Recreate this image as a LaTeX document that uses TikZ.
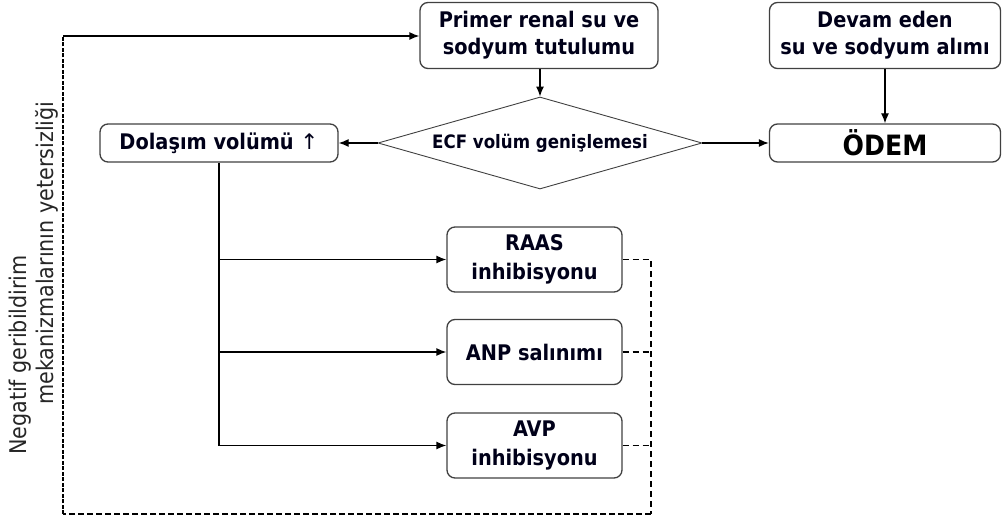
\documentclass[tikz,border=0pt]{standalone}
\usepackage{fontspec}
\setmainfont{DejaVu Sans Condensed}
\newfontfamily\rotfont{DejaVu Sans Condensed}
\newfontfamily\arrfont{DejaVu Sans}
\usetikzlibrary{arrows.meta,shapes.geometric}
\begin{document}
\begin{tikzpicture}[x=1pt,y=-1pt,
  box/.style={draw=black!75,line width=1.3pt,rounded corners=8pt,align=center,
    text=black!90!blue,font=\fontsize{21.5}{27}\selectfont\bfseries,inner sep=0pt},
  conn/.style={line width=1.3pt,-{Latex[length=10pt,width=8pt]}},
  fb/.style={line width=1.3pt,dash pattern=on 6pt off 4pt},
  rot/.style={rotate=90,anchor=base,font=\rotfont\fontsize{23}{23}\selectfont,text=black!85,inner sep=0pt}]
\useasboundingbox (0,0) rectangle (1002,521);
\node[box,minimum width=238pt,minimum height=66pt] (primer) at (539,35.5) {Primer renal su ve\\sodyum tutulumu};
\node[box,minimum width=231pt,minimum height=66pt] (devam) at (885,35.5) {Devam eden\\su ve sodyum alımı};
\node[draw=black!75,line width=0.9pt,shape=diamond,aspect=3.52,inner sep=0pt,
  minimum width=324pt,minimum height=92pt,text=black!90!blue,
  font=\fontsize{18.5}{20}\selectfont\bfseries] (diam) at (540,143) {ECF volüm genişlemesi};
\node[box,minimum width=238pt,minimum height=38pt] (dol) at (219,143) {Dolaşım volümü {\arrfont\mdseries ↑}};
\node[box,minimum width=231pt,minimum height=38pt,font=\fontsize{28}{30}\selectfont\bfseries,text=black] (odem) at (885,143) {ÖDEM};
\node[box,minimum width=175pt,minimum height=65pt,font=\fontsize{21.5}{29}\selectfont\bfseries] (raas) at (534.5,259.5) {RAAS\\inhibisyonu};
\node[box,minimum width=175pt,minimum height=65pt] (anp) at (534.5,352) {ANP salınımı};
\node[box,minimum width=175pt,minimum height=65pt,font=\fontsize{21.5}{29}\selectfont\bfseries] (avp) at (534.5,445.5) {AVP\\inhibisyonu};
\node[rot] (neg) at (26,355) {Negatif geribildirim};
\node[rot] (mek) at (53,253) {mekanizmalarının yetersizliği};
\coordinate (rc) at (651,259.5);
\coordinate (br) at (651,514);
\coordinate (bl) at (63,514);
\coordinate (tl) at (63,36);
\draw[conn] (diam.north |- primer.south) -- (diam.north);
\draw[conn] (devam.south) -- (odem.north);
\draw[conn] (diam.west) -- (dol.east);
\draw[conn] (diam.east) -- (odem.west);
\draw[line width=1.3pt] (dol.south) -- (dol.south |- avp.west);
\draw[conn] (dol.south |- raas.west) -- (raas.west);
\draw[conn] (dol.south |- anp.west) -- (anp.west);
\draw[conn] (dol.south |- avp.west) -- (avp.west);
\draw[fb] (raas.east) -- (rc) -- (br);
\draw[fb] (anp.east) -- (anp.east -| rc);
\draw[fb] (avp.east) -- (avp.east -| rc);
\draw[line width=2pt,dash pattern=on 6pt off 3pt] (br) -- (bl);
\draw[line width=1.6pt,dash pattern=on 4pt off 1.5pt] (bl) -- (tl);
\draw[conn] (tl) -- (tl -| primer.west);
\end{tikzpicture}
\end{document}
